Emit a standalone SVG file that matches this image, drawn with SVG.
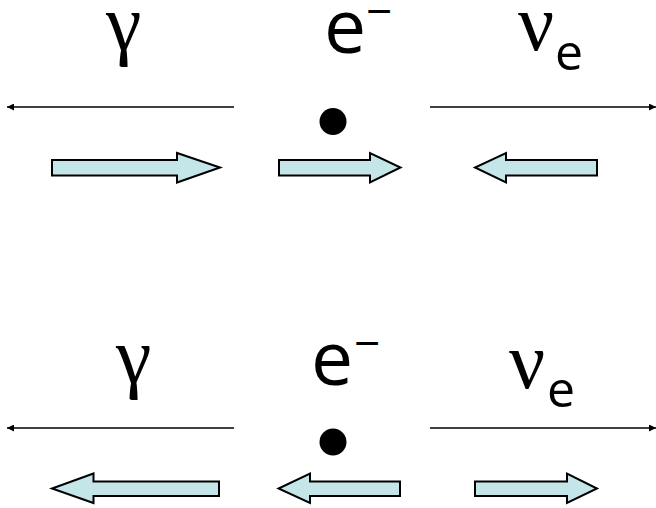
<svg xmlns="http://www.w3.org/2000/svg" width="656" height="508" viewBox="0 0 656 508">
<defs>
<style>
.greek{font-family:"Liberation Serif","Times New Roman",serif;font-size:80px;fill:#000}
.lat{font-family:"Open Sans","DejaVu Sans",sans-serif;fill:#000}
.line{stroke:#000;stroke-width:1.4;fill:none}
.blk{fill:#C5E6E8;stroke:#000;stroke-width:2;stroke-linejoin:miter}
</style>
<marker id="ah" viewBox="0 0 10 10" refX="10" refY="5" markerWidth="7" markerHeight="7" orient="auto" markerUnits="userSpaceOnUse">
<path d="M0,0 L10,5 L0,10 Z" fill="#000"/>
</marker>
</defs>
<rect width="656" height="508" fill="#fff"/>

<g id="top-gamma"><text class="greek" x="106" y="50">γ</text></g>
<g id="top-electron">
<text class="lat" x="324" y="53" font-size="75">e</text>
<text class="lat" x="366" y="28" font-size="46">−</text>
<circle cx="333" cy="121.5" r="13.5" fill="#000"/>
</g>
<g id="top-neutrino">
<text class="greek" x="518" y="50">ν</text>
<text class="lat" x="555" y="70" font-size="50">e</text>
</g>

<g id="bottom-gamma"><text class="greek" x="116" y="383">γ</text></g>
<g id="bottom-electron">
<text class="lat" x="311" y="385" font-size="75">e</text>
<text class="lat" x="354" y="360" font-size="46">−</text>
<circle cx="333" cy="442" r="13.5" fill="#000"/>
</g>
<g id="bottom-neutrino">
<text class="greek" x="509" y="388">ν</text>
<text class="lat" x="547" y="407" font-size="50">e</text>
</g>

<g id="connectors">
<line class="line" x1="234" y1="107" x2="7" y2="107" marker-end="url(#ah)"/>
<line class="line" x1="430" y1="107" x2="656" y2="107" marker-end="url(#ah)"/>
<line class="line" x1="234" y1="428" x2="7" y2="428" marker-end="url(#ah)"/>
<line class="line" x1="430" y1="428" x2="656" y2="428" marker-end="url(#ah)"/>
</g>

<g id="spin-arrows">
<path class="blk" d="M52,160 L177,160 L177,153 L220,167.5 L177,182.5 L177,175.5 L52,175.5 Z"/>
<path class="blk" d="M279,160 L370,160 L370,153 L400.5,167.5 L370,182.5 L370,175.5 L279,175.5 Z"/>
<path class="blk" d="M597,160 L506,160 L506,153 L475,167.5 L506,182.5 L506,175.5 L597,175.5 Z"/>
<path class="blk" d="M219,481.5 L93.5,481.5 L93.5,473.5 L52,488.5 L93.5,503 L93.5,496 L219,496 Z"/>
<path class="blk" d="M400,481.5 L310,481.5 L310,473.5 L278.5,488.5 L310,503 L310,496 L400,496 Z"/>
<path class="blk" d="M475,481.5 L567,481.5 L567,473.5 L597,488.5 L567,503 L567,496 L475,496 Z"/>
</g>
</svg>
